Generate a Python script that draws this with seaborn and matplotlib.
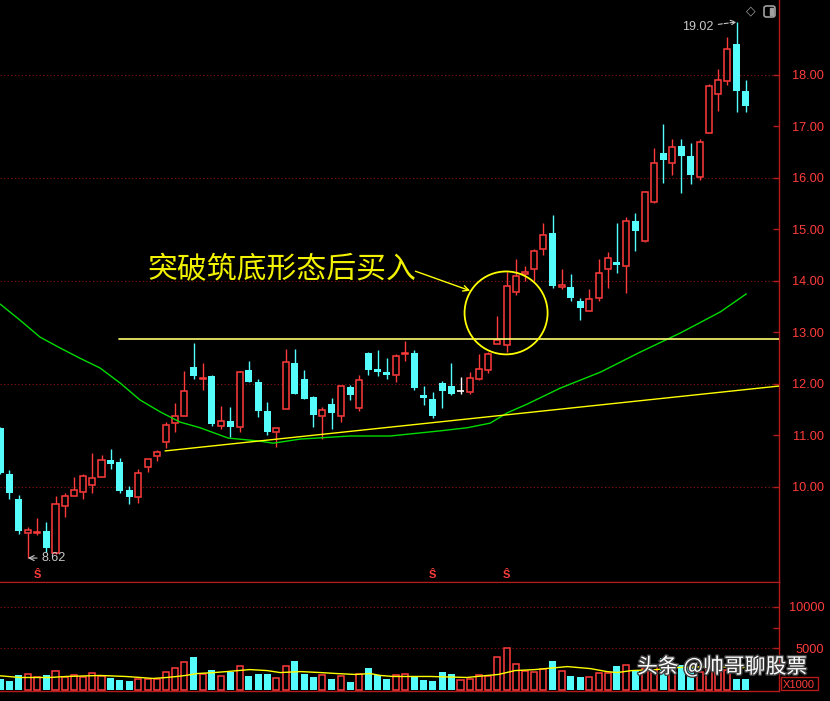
import numpy as np
import pandas as pd
import matplotlib
matplotlib.use("Agg")
import matplotlib.pyplot as plt
import seaborn as sns
from matplotlib.patches import Ellipse, FancyBboxPatch, Rectangle
import matplotlib.patheffects as pe

# ---------------- data ----------------
open_ = [11.15, 10.25, 9.77, 9.11, 9.11, 9.15, 8.71, 9.64, 9.83, 9.91,
         10.04, 10.20, 10.52, 10.49, 9.94, 9.80, 10.38, 10.60, 10.87, 11.24,
         11.38, 12.33, 12.10, 12.16, 11.19, 11.28, 11.17, 12.27, 12.03, 11.48,
         11.06, 11.52, 12.41, 12.10, 11.75, 11.38, 11.61, 11.37, 11.94, 11.54,
         12.60, 12.29, 12.23, 12.17, 12.59, 12.60, 11.79, 11.71, 12.02, 11.96,
         11.86, 11.84, 12.10, 12.28, 12.77, 12.76, 13.79, 14.13, 14.23, 14.63,
         14.93, 13.88, 13.88, 13.61, 13.42, 13.66, 14.24, 14.37, 14.30, 15.17,
         14.78, 15.54, 16.49, 16.30, 16.62, 16.43, 16.01, 16.87, 17.64, 17.88,
         18.60, 17.69]
close = [10.27, 9.88, 9.15, 9.17, 9.13, 8.82, 9.66, 9.82, 9.95, 10.21,
         10.17, 10.52, 10.45, 9.93, 9.81, 10.27, 10.54, 10.67, 11.20, 11.37,
         11.86, 12.16, 12.12, 11.22, 11.28, 11.17, 12.23, 12.04, 11.48, 11.07,
         11.14, 12.42, 11.81, 11.71, 11.40, 11.50, 11.44, 11.96, 11.79, 12.07,
         12.28, 12.24, 12.18, 12.54, 12.61, 11.92, 11.73, 11.38, 11.86, 11.81,
         11.86, 12.11, 12.29, 12.58, 12.85, 13.90, 14.09, 14.17, 14.58, 14.89,
         13.90, 13.92, 13.67, 13.48, 13.65, 14.16, 14.45, 14.32, 15.16, 14.98,
         15.72, 16.29, 16.34, 16.60, 16.43, 16.06, 16.69, 17.78, 17.90, 18.50,
         17.68, 17.40]
high = [11.17, 10.33, 9.84, 9.22, 9.40, 9.32, 9.83, 9.88, 10.19, 10.25,
        10.66, 10.62, 10.74, 10.56, 10.02, 10.34, 10.54, 10.71, 11.26, 11.64,
        12.25, 12.80, 12.41, 12.17, 11.57, 11.55, 12.25, 12.44, 12.10, 11.65,
        11.14, 12.68, 12.68, 12.27, 11.77, 11.55, 11.73, 11.96, 11.98, 12.17,
        12.62, 12.66, 12.50, 12.58, 12.83, 12.66, 11.96, 11.84, 12.06, 12.41,
        12.14, 12.23, 12.58, 12.62, 13.32, 14.17, 14.43, 14.29, 14.62, 15.13,
        15.28, 14.23, 14.14, 13.67, 13.84, 14.43, 14.56, 15.13, 15.24, 15.32,
        15.75, 16.58, 17.05, 16.75, 16.75, 16.68, 16.75, 17.83, 18.12, 18.73,
        19.02, 17.90]
low = [10.25, 9.77, 9.09, 8.62, 9.07, 8.74, 8.70, 9.42, 9.82, 9.77,
       9.89, 10.19, 10.34, 9.89, 9.66, 9.68, 10.29, 10.50, 10.76, 11.06,
       11.37, 12.10, 11.88, 11.18, 11.12, 10.97, 11.07, 12.03, 11.35, 11.00,
       10.78, 11.52, 11.81, 11.71, 11.17, 10.93, 11.13, 11.27, 11.69, 11.48,
       12.18, 12.16, 12.10, 12.04, 12.45, 11.88, 11.59, 11.34, 11.53, 11.79,
       11.81, 11.81, 12.08, 12.22, 12.77, 12.63, 13.73, 13.99, 13.99, 14.51,
       13.86, 13.84, 13.61, 13.24, 13.42, 13.62, 13.86, 14.16, 13.77, 14.59,
       14.76, 15.52, 15.91, 16.06, 15.71, 15.89, 15.97, 16.87, 17.31, 17.81,
       17.29, 17.29]
volume = [1310, 1070, 1790, 1980, 1510, 1790, 2340, 1510, 1750, 1510,
          2100, 1630, 1430, 1190, 1070, 1270, 1270, 1270, 2220, 2700,
          3410, 3930, 1870, 2380, 1630, 2220, 2940, 1670, 1900, 1900,
          1390, 2940, 3450, 1900, 1550, 1750, 1310, 1630, 950, 1980,
          2620, 1790, 1310, 1750, 1870, 1550, 1190, 1070, 2140, 1900,
          1190, 1310, 1750, 1630, 4010, 5080, 3170, 2260, 2140, 2580,
          3450, 2260, 1670, 1550, 1550, 2020, 2020, 2860, 2980, 2400,
          2700, 2900, 3810, 2500, 3000, 2600, 2200, 2500, 2300, 2400,
          1310, 1310]

# long moving average of price (green), read at points
ma_pos = [0, 2.14, 4.32, 6.49, 8.66, 10.84, 13.01, 15.18, 17.36, 19.53, 21.71,
          24.75, 28.23, 29.64, 32.58, 38.0, 42.36, 47.79, 50.73, 53.23, 55.08,
          57.25, 60.84, 65.2, 69.53, 73.88, 78.23, 81.05]
ma_val = [13.55, 13.24, 12.91, 12.70, 12.50, 12.31, 12.02, 11.69, 11.46, 11.26,
          11.15, 10.95, 10.89, 10.85, 10.93, 10.99, 10.99, 11.09, 11.15, 11.24,
          11.44, 11.61, 11.92, 12.23, 12.62, 12.99, 13.40, 13.75]

# volume moving average (yellow), read at points
vma_pos = [0, 2.1, 5.4, 7.2, 10.8, 13.6, 15.2, 16.6, 18.1, 19.2, 20.1, 21.4, 23.2,
           24.6, 27.1, 29.0, 30.4, 32.6, 34.8, 36.6, 38.6, 40.2, 41.3, 42.7, 46.7,
           50.7, 52.9, 54.1, 55.0, 55.9, 58.1, 61.6, 64.1, 65.9, 67.0, 68.6, 71.3,
           73.5, 77.1, 80.8]
vma_val = [1710, 1510, 1510, 1630, 1750, 1630, 1510, 1390, 1510, 1630, 1750, 1980,
           2100, 2220, 2460, 2340, 2100, 2220, 2100, 1980, 1870, 1980, 1750, 1630,
           1630, 1510, 1750, 1870, 2100, 2340, 2460, 2820, 2580, 2220, 2100, 2340,
           2460, 2700, 2820, 2700]

# hand-drawn lines
trend_pos = [17.9, 84.6]
trend_val = [10.70, 11.96]
neck_pos = [12.9, 84.6]
neck_val = [12.87, 12.87]

price_ticks = [10, 11, 12, 13, 14, 15, 16, 17, 18]
vol_ticks = [5000, 10000]
signal_pos = [4, 47, 55]
annot_text = "突破筑底形态后买入"
watermark = "头条 @帅哥聊股票"

# ---------------- style ----------------
sns.set_style("dark", rc={"axes.facecolor": "black", "figure.facecolor": "black",
                          "axes.grid": False})
plt.rcParams["font.family"] = ["Liberation Sans", "Noto Sans CJK SC", "DejaVu Sans"]

RED = "#FF3C3C"
CYAN = "#54FCFC"
AXRED = "#B41C1C"
GRID = "#8E1414"
YEL = "#FFFF00"
GREEN = "#00DC00"
GRAY = "#C8C8C8"

W, H = 830, 701
fig = plt.figure(figsize=(W / 100, H / 100), dpi=100)
ax = fig.add_axes([0, 1 - 582 / H, 779 / W, 582 / H])
axv = fig.add_axes([0, 1 - 691 / H, 779 / W, 109 / H])

df = pd.DataFrame({"i": np.arange(len(open_)), "o": open_, "h": high,
                   "l": low, "c": close, "v": volume})

# grids first
for p in [10, 12, 14, 16, 18]:
    ax.axhline(p, color=GRID, lw=0.8, ls=(0, (1, 2.2)), zorder=0)
for v in vol_ticks:
    axv.axhline(v, color=GRID, lw=0.8, ls=(0, (1, 2.2)), zorder=0)

# candles
for r in df.itertuples():
    top, bot = max(r.o, r.c), min(r.o, r.c)
    if r.c > r.o:
        col = RED
        ax.vlines(r.i, top, r.h, color=col, lw=1, zorder=2)
        ax.vlines(r.i, r.l, bot, color=col, lw=1, zorder=2)
        ax.bar(r.i, max(top - bot, 0.02), bottom=bot, width=0.66,
               facecolor="black", edgecolor=col, linewidth=1.1, zorder=3)
        axv.bar(r.i, r.v, width=0.66, facecolor="black", edgecolor=col,
                linewidth=1.1, zorder=3)
    elif r.c < r.o:
        col = CYAN
        ax.vlines(r.i, r.l, r.h, color=col, lw=1, zorder=2)
        ax.bar(r.i, max(top - bot, 0.03), bottom=bot, width=0.76,
               facecolor=col, edgecolor=col, linewidth=0, zorder=3)
        axv.bar(r.i, r.v, width=0.76, facecolor=col, linewidth=0, zorder=3)
    else:
        col = "white"
        ax.vlines(r.i, r.l, r.h, color=col, lw=1, zorder=2)
        ax.hlines(r.c, r.i - 0.36, r.i + 0.36, color=col, lw=1.2, zorder=3)
        axv.bar(r.i, r.v, width=0.66, facecolor="black", edgecolor=RED,
                linewidth=1.1, zorder=3)

# moving averages via seaborn
sns.lineplot(x=ma_pos, y=ma_val, ax=ax, color=GREEN, lw=1, zorder=4)
sns.lineplot(x=vma_pos, y=vma_val, ax=axv, color=YEL, lw=1, zorder=4)
sns.lineplot(x=trend_pos, y=trend_val, ax=ax, color=YEL, lw=1, zorder=4)
sns.lineplot(x=neck_pos, y=neck_val, ax=ax, color="#FFFF70", lw=1.2, zorder=4)

# circle + annotation
ax.add_patch(Ellipse((54.95, 13.38), 9.02, 1.61, fill=False, edgecolor=YEL,
                     lw=1.3, zorder=5))
ax.text(16.0, 14.22, annot_text, color="#F2F200", fontsize=21.5,
        family=["Noto Sans CJK SC", "DejaVu Sans"], ha="left", va="center", zorder=6)
ax.annotate("", xy=(51.05, 13.81), xytext=(45.1, 14.19),
            arrowprops=dict(arrowstyle="->", color=YEL, lw=1, shrinkA=0, shrinkB=0),
            zorder=6)

# high / low marks
ax.annotate("19.02", xy=(80.0, 19.03), xytext=(77.5, 18.93), color=GRAY,
            fontsize=9, ha="right", va="center",
            arrowprops=dict(arrowstyle="->", color=GRAY, lw=0.8, ls="--",
                            shrinkA=1, shrinkB=0))
ax.annotate("8.62", xy=(3.0, 8.62), xytext=(4.5, 8.62), color=GRAY,
            fontsize=9, ha="left", va="center",
            arrowprops=dict(arrowstyle="->", color=GRAY, lw=0.8,
                            shrinkA=1, shrinkB=0))

for s in signal_pos:
    ax.text(s, 8.29, "Ŝ", color=RED, fontsize=8, fontweight="bold",
            ha="center", va="center")

# axes styling
for a in (ax, axv):
    a.set_xlim(-0.03, 84.6)
    a.set_xticks([])
    a.set_xlabel("")
    a.set_ylabel("")
    for sp in ("left", "top"):
        a.spines[sp].set_visible(False)
    a.spines["right"].set_color(AXRED)
    a.spines["bottom"].set_color(AXRED)
    a.spines["right"].set_linewidth(1)
    a.spines["bottom"].set_linewidth(1)
    a.yaxis.tick_right()
axv.spines["top"].set_visible(True)
axv.spines["top"].set_color(AXRED)

ax.set_ylim(8.155, 19.456)
ax.set_yticks(price_ticks)
ax.set_yticklabels([f"{p:.2f}" for p in price_ticks])
axv.set_ylim(-120, 13010)
axv.set_yticks(vol_ticks)
axv.set_yticklabels([str(v) for v in vol_ticks])
axv.set_yticks([2500, 7500], minor=True)
for a in (ax, axv):
    a.tick_params(axis="y", which="both", direction="in", length=4, width=1,
                  color=AXRED, labelcolor=RED, labelsize=9.2, pad=32.5,
                  right=True, left=False, labelright=True, labelleft=False)
    for lab in a.get_yticklabels():
        lab.set_horizontalalignment("right")

# X1000 box
fig.text(799 / W, 1 - 684.5 / H, "X1000", color=RED, fontsize=8, ha="center",
         va="center")
fig.add_artist(Rectangle((781 / W, 1 - 690 / H), 37 / W, 13 / H, fill=False,
                         edgecolor=AXRED, lw=1, transform=fig.transFigure))

# top right icons
fig.text(751 / W, 1 - 11 / H, "◇", color="#A0A0A0", fontsize=9, ha="center",
         va="center", family=["DejaVu Sans"])
fig.add_artist(FancyBboxPatch((764 / W, 1 - 17 / H), 11 / W, 11 / H,
                              boxstyle="round,pad=0,rounding_size=0.003",
                              fill=False, edgecolor="#A0A0A0", lw=1.2,
                              transform=fig.transFigure))
fig.add_artist(Rectangle((770 / W, 1 - 15 / H), 3 / W, 7 / H, color="#A0A0A0",
                         transform=fig.transFigure))

# watermark
fig.text(637 / W, 1 - 667 / H, watermark, color="white", fontsize=15,
         ha="left", va="center", family=["Noto Sans CJK SC", "DejaVu Sans"],
         path_effects=[pe.withStroke(linewidth=2, foreground="#404040")])

fig.savefig("out.png", dpi=100, facecolor="black")
